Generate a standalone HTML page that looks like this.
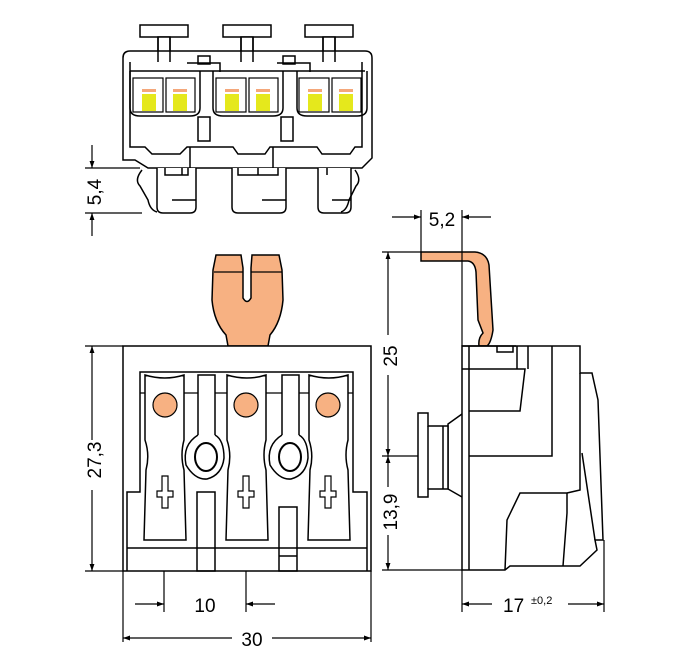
<!DOCTYPE html>
<html><head><meta charset="utf-8"><style>
html,body{margin:0;padding:0;background:#fff;}
svg{display:block;}
text{font-family:"Liberation Sans",Arial,sans-serif;fill:#000;}
</style></head><body>
<svg width="697" height="661" viewBox="0 0 697 661" xmlns="http://www.w3.org/2000/svg">
<defs>
<marker id="a" viewBox="0 0 10 10" refX="10" refY="5" markerWidth="10" markerHeight="7" orient="auto-start-reverse" markerUnits="userSpaceOnUse"><path d="M0,1.5 L10,5 L0,8.5 z" fill="#000"/></marker>
</defs>
<g fill="none" stroke="#000" stroke-width="1.5">
<!-- ===== TOP VIEW ===== -->
<g>
<rect x="140" y="25" width="48" height="12" fill="#fff"/><rect x="158" y="37" width="12" height="40" fill="#fff"/>
<rect x="223" y="25" width="48" height="12" fill="#fff"/><rect x="241" y="37" width="12" height="40" fill="#fff"/>
<rect x="305" y="25" width="48" height="12" fill="#fff"/><rect x="323" y="37" width="12" height="40" fill="#fff"/>
<path d="M130,51 H365 Q372,51 372,58 V158 L362,168 H148 L135,160 H123 V58 Q123,51 130,51 Z" fill="#fff"/>
<path d="M130,62 V147 H145 L152,154 H180 L187,147 H233 L238,154 H265 L270,147 H317 L322,154 H350 L355,147 H362 V62"/>
<path d="M190,147 V168 M273,147 V168"/>
<path d="M158,37 V62 M170,37 V62 M241,37 V62 M253,37 V62 M323,37 V62 M335,37 V62"/>
<path d="M187,63 H220 V72 M277,63 H310 V72"/>
<path d="M130,71 H365"/>
<rect x="198" y="56" width="12" height="8"/><rect x="283" y="56" width="12" height="8"/>
<path d="M130,71 V108 Q130,116 140,116 H190 Q200,116 200,108 V71"/>
<path d="M213,71 V108 Q213,116 223,116 H273 Q283,116 283,108 V71"/>
<path d="M297,71 V108 Q297,116 307,116 H357 Q367,116 367,108 V71"/>
<rect x="198" y="117" width="12" height="24"/><rect x="281" y="117" width="12" height="24"/>
<g stroke-width="1.2">
<rect x="133" y="78" width="30" height="34"/><rect x="166" y="78" width="29" height="34"/>
<rect x="216" y="78" width="30" height="34"/><rect x="249" y="78" width="29" height="34"/>
<rect x="299" y="78" width="30" height="34"/><rect x="332" y="78" width="29" height="34"/>
</g>
<g fill="#e5e81c" stroke="none">
<rect x="142" y="94" width="14" height="17"/><rect x="173" y="94" width="14" height="17"/>
<rect x="225" y="94" width="14" height="17"/><rect x="256" y="94" width="14" height="17"/>
<rect x="308" y="94" width="14" height="17"/><rect x="339" y="94" width="14" height="17"/>
</g>
<g fill="#f4a77a" stroke="none">
<rect x="142" y="89" width="14" height="3"/><rect x="173" y="89" width="14" height="3"/>
<rect x="225" y="89" width="14" height="3"/><rect x="256" y="89" width="14" height="3"/>
<rect x="308" y="89" width="14" height="3"/><rect x="339" y="89" width="14" height="3"/>
</g>
<path d="M157,168 V207 Q157,213 163,213 H190 Q196,213 196,207 V168" fill="#fff"/>
<path d="M232,168 V207 Q232,213 238,213 H280 Q286,213 286,207 V168" fill="#fff"/>
<path d="M318,168 V207 Q318,213 324,213 H345 Q351,213 351,207 V168" fill="#fff"/>
<path d="M142,170 Q134,180 140,186 L148,200 Q150,210 157,212"/>
<path d="M355,170 Q362,180 356,186 L349,200 Q347,210 341,212"/>
<path d="M165,168 V175 H188 V168 M238,168 V175 H278 V168 M172,200 H196 M262,200 H286 M332,200 H351 M182,168 V175 M258,168 V175 M327,168 V175"/>
</g>
<!-- ===== FRONT VIEW ===== -->
<g>
<path d="M228,346 L226,335 Q214,322 212,300 L213,270 L216,255 H241 L243,268 V298 Q247,305 251,298 V268 L252,255 H279 L282,270 L283,300 Q281,322 270,335 L268,346 Z" fill="#f7b182"/>
<path d="M214,272 H243 M251,272 H282" stroke-width="1.2"/>
<rect x="123" y="346" width="248" height="225" fill="#fff"/>
<path d="M127,571 V492 H140 V372 H353 V492 H367 V571"/>
<path d="M127,548 H367"/>
<path d="M140,393 H353" stroke-width="1.2"/>
<path d="M145,375 Q165,381 184,375 V440 Q180,455 184,470 L186,540 H144 L146,470 Q150,455 145,440 Z" fill="#fff"/>
<path d="M227,375 Q247,381 266,375 V440 Q262,455 266,470 L268,540 H226 L228,470 Q232,455 227,440 Z" fill="#fff"/>
<path d="M309,375 Q329,381 348,375 V440 Q344,455 348,470 L350,540 H308 L310,470 Q314,455 309,440 Z" fill="#fff"/>
<rect x="198" y="375" width="17" height="65" fill="#fff"/><rect x="282" y="375" width="17" height="65" fill="#fff"/>
<path d="M198,435 Q182,445 186,465 Q195,480 207,479 Q222,475 224,458 Q224,440 215,435" fill="#fff"/>
<path d="M282,435 Q266,445 270,465 Q279,480 291,479 Q306,475 308,458 Q308,440 299,435" fill="#fff"/>
<ellipse cx="206" cy="457" rx="11" ry="14" stroke-width="2"/>
<ellipse cx="290" cy="457" rx="11" ry="14" stroke-width="2"/>
<rect x="197" y="492" width="18" height="79"/><rect x="279" y="507" width="18" height="64"/>
<path d="M279,556 H297"/>
<g fill="#f7b182" stroke-width="1.2">
<circle cx="165" cy="405" r="12"/><circle cx="246" cy="405" r="12"/><circle cx="328" cy="405" r="12"/>
</g>
<g stroke-width="1.2" fill="#fff">
<path d="M162,476 V491 H157 V497 H162 V508 H168 V497 H173 V491 H168 V476 Z"/>
<path d="M243,476 V491 H238 V497 H243 V508 H249 V497 H254 V491 H249 V476 Z"/>
<path d="M325,476 V491 H320 V497 H325 V508 H331 V497 H336 V491 H331 V476 Z"/>
</g>
</g>
<!-- ===== SIDE VIEW ===== -->
<g>
<path d="M421,252 H475 Q487,253 489,265 L493,330 Q491,343 487,346 H479 Q478,338 483,333 L478,320 L476,272 Q475,262 468,261 H421 Z" fill="#f7b182"/>
<path d="M462,346 H580 V373 H592 L598,400 L603,540 H595 L597,550 L580,566 H510 L505,570 H462 Z" fill="#fff"/>
<path d="M462,346 H516 M469,346 V570 M462,369 H525 L520,411 H469 M469,456 H552 V346 M517,346 V369 M497,346 V352 H513 V346 M528,346 V369 M580,373 V490 L567,493 V513 L563,566 M505,570 L507,520 L520,493 H567 M582,453 L595,540"/>
<path d="M462,414 L448,424 V489 L462,497"/>
<path d="M418,413 H428 V426 H448 V489 H428 V497 H418 Z" fill="#fff"/>
<path d="M428,426 V489 M443,426 V489"/>
</g>
<!-- ===== DIMENSIONS ===== -->
<g stroke-width="1.2">
<path d="M85,168 H140 M85,213 H142"/>
<path d="M92,145 V168" marker-end="url(#a)"/>
<path d="M92,236 V213" marker-end="url(#a)"/>
<path d="M85,346 H123 M85,571 H123"/>
<path d="M92,440 V346" marker-end="url(#a)"/>
<path d="M92,490 V571" marker-end="url(#a)"/>
<path d="M123,571 V642 M371,571 V642 M164,571 V612 M246,571 V612"/>
<path d="M135,604 H164" marker-end="url(#a)"/>
<path d="M275,604 H246" marker-end="url(#a)"/>
<path d="M232,638 H123" marker-end="url(#a)"/>
<path d="M272,638 H371" marker-end="url(#a)"/>
<path d="M382,252 H421 M382,456 H418 M382,570 H462"/>
<path d="M388,335 V252" marker-end="url(#a)"/>
<path d="M388,375 V456" marker-end="url(#a)"/>
<path d="M388,487 V456" marker-end="url(#a)"/>
<path d="M388,535 V570" marker-end="url(#a)"/>
<path d="M421,210 V252 M462,210 V346 M462,570 V612 M604,540 V612"/>
<path d="M392,217 H421" marker-end="url(#a)"/>
<path d="M491,217 H462" marker-end="url(#a)"/>
<path d="M492,604 H462" marker-end="url(#a)"/>
<path d="M568,604 H604" marker-end="url(#a)"/>
</g>
</g>
<g font-size="19">
<text transform="translate(101,192) rotate(-90)" text-anchor="middle">5,4</text>
<text transform="translate(101,460) rotate(-90)" text-anchor="middle">27,3</text>
<text x="205" y="612" text-anchor="middle">10</text>
<text x="252" y="646" text-anchor="middle">30</text>
<text transform="translate(397,356) rotate(-90)" text-anchor="middle">25</text>
<text transform="translate(397,512) rotate(-90)" text-anchor="middle">13,9</text>
<text x="442" y="226" text-anchor="middle">5,2</text>
<text x="503" y="612">17</text>
<text x="531" y="604" font-size="11">±0,2</text>
</g>
</svg>
</body></html>
